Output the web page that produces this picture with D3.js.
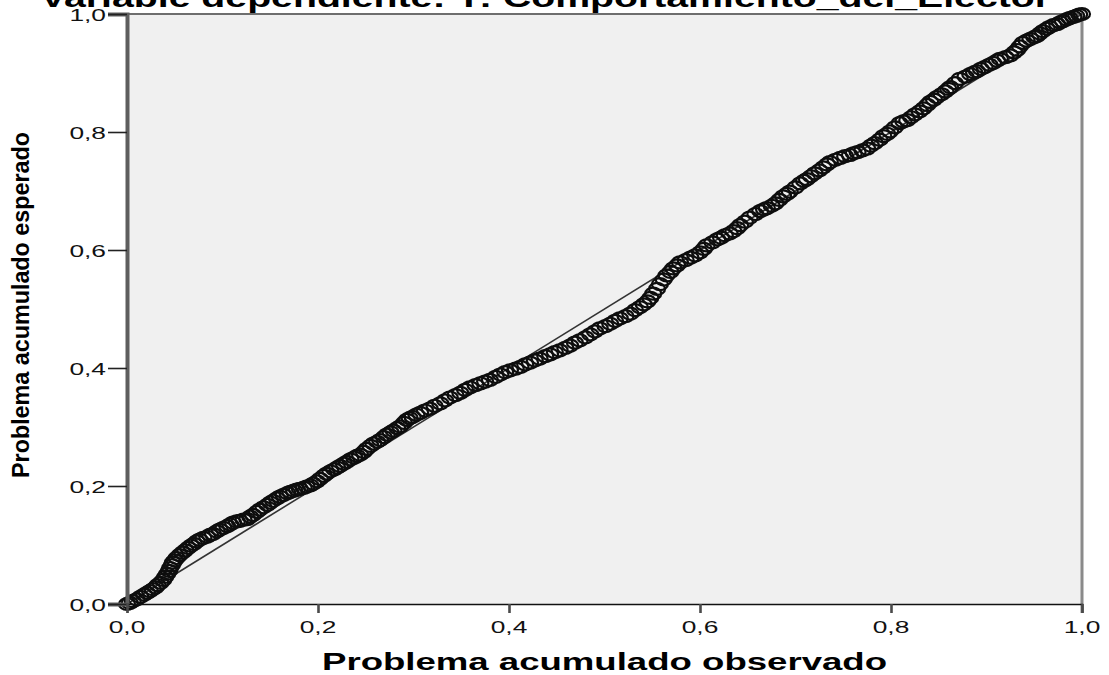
<!DOCTYPE html>
<html>
<head>
<meta charset="utf-8">
<script src="https://cdn.jsdelivr.net/npm/d3@7"></script>
<style>
  html, body { margin: 0; padding: 0; background: #ffffff; }
  svg { display: block; font-family: "Liberation Sans", Arial, sans-serif; }
</style>
</head>
<body>
<svg id="chart" width="1109" height="675"></svg>
<script>
// Observed cumulative probability of each case
const observed = [
  0.000, 0.003, 0.006, 0.010, 0.014, 0.018, 0.021, 0.024, 0.027, 0.030,
  0.032, 0.035, 0.038, 0.040, 0.042, 0.044, 0.045, 0.047, 0.048, 0.050,
  0.052, 0.055, 0.058, 0.061, 0.064, 0.067, 0.070, 0.073, 0.076, 0.080,
  0.084, 0.087, 0.090, 0.094, 0.097, 0.101, 0.105, 0.108, 0.111, 0.115,
  0.118, 0.122, 0.126, 0.129, 0.132, 0.136, 0.139, 0.143, 0.147, 0.150,
  0.153, 0.157, 0.160, 0.164, 0.168, 0.171, 0.175, 0.178, 0.181, 0.185,
  0.188, 0.192, 0.195, 0.199, 0.202, 0.206, 0.209, 0.213, 0.217, 0.220,
  0.223, 0.227, 0.230, 0.234, 0.238, 0.241, 0.244, 0.248, 0.251, 0.255,
  0.258, 0.262, 0.265, 0.269, 0.272, 0.276, 0.279, 0.283, 0.286, 0.290,
  0.293, 0.296, 0.299, 0.303, 0.307, 0.312, 0.317, 0.322, 0.328, 0.333,
  0.338, 0.344, 0.349, 0.354, 0.359, 0.365, 0.370, 0.375, 0.380, 0.386,
  0.391, 0.396, 0.401, 0.407, 0.412, 0.417, 0.422, 0.427, 0.432, 0.438,
  0.443, 0.448, 0.453, 0.459, 0.464, 0.469, 0.474, 0.480, 0.485, 0.490,
  0.495, 0.501, 0.506, 0.511, 0.516, 0.522, 0.527, 0.532, 0.537, 0.541,
  0.545, 0.548, 0.551, 0.555, 0.558, 0.562, 0.565, 0.569, 0.572, 0.576,
  0.579, 0.585, 0.590, 0.595, 0.600, 0.604, 0.607, 0.613, 0.618, 0.622,
  0.626, 0.631, 0.635, 0.639, 0.642, 0.647, 0.652, 0.658, 0.663, 0.667,
  0.670, 0.675, 0.679, 0.683, 0.687, 0.691, 0.694, 0.700, 0.705, 0.709,
  0.712, 0.716, 0.720, 0.725, 0.729, 0.733, 0.736, 0.742, 0.747, 0.752,
  0.757, 0.761, 0.765, 0.770, 0.775, 0.779, 0.783, 0.788, 0.792, 0.796,
  0.799, 0.804, 0.809, 0.813, 0.817, 0.821, 0.825, 0.830, 0.834, 0.838,
  0.841, 0.845, 0.848, 0.853, 0.857, 0.860, 0.862, 0.867, 0.872, 0.878,
  0.883, 0.887, 0.890, 0.894, 0.898, 0.903, 0.907, 0.911, 0.914, 0.920,
  0.925, 0.929, 0.932, 0.935, 0.938, 0.942, 0.946, 0.950, 0.953, 0.956,
  0.959, 0.963, 0.966, 0.970, 0.974, 0.977, 0.980, 0.984, 0.987, 0.991,
  0.994, 0.997, 1.000
];

// Expected cumulative probability under the normal distribution
const expected = [
  0.000, 0.002, 0.005, 0.008, 0.012, 0.016, 0.019, 0.022, 0.025, 0.028,
  0.032, 0.036, 0.041, 0.046, 0.051, 0.056, 0.061, 0.066, 0.070, 0.074,
  0.078, 0.083, 0.087, 0.091, 0.095, 0.099, 0.102, 0.106, 0.109, 0.112,
  0.114, 0.117, 0.119, 0.123, 0.126, 0.129, 0.132, 0.135, 0.138, 0.140,
  0.141, 0.143, 0.144, 0.148, 0.151, 0.156, 0.160, 0.164, 0.168, 0.172,
  0.175, 0.179, 0.182, 0.185, 0.188, 0.190, 0.192, 0.194, 0.195, 0.197,
  0.199, 0.201, 0.204, 0.208, 0.212, 0.217, 0.221, 0.225, 0.228, 0.231,
  0.234, 0.238, 0.241, 0.245, 0.248, 0.251, 0.253, 0.258, 0.263, 0.268,
  0.272, 0.275, 0.278, 0.283, 0.287, 0.291, 0.294, 0.298, 0.301, 0.307,
  0.312, 0.315, 0.317, 0.321, 0.324, 0.328, 0.331, 0.336, 0.340, 0.345,
  0.350, 0.354, 0.358, 0.363, 0.367, 0.371, 0.374, 0.377, 0.380, 0.385,
  0.389, 0.393, 0.396, 0.399, 0.402, 0.406, 0.409, 0.413, 0.416, 0.420,
  0.423, 0.427, 0.430, 0.434, 0.438, 0.443, 0.447, 0.452, 0.457, 0.462,
  0.467, 0.471, 0.475, 0.480, 0.484, 0.488, 0.492, 0.498, 0.503, 0.508,
  0.513, 0.519, 0.526, 0.534, 0.542, 0.550, 0.557, 0.563, 0.569, 0.574,
  0.579, 0.583, 0.587, 0.591, 0.596, 0.602, 0.608, 0.613, 0.618, 0.621,
  0.625, 0.628, 0.632, 0.637, 0.642, 0.648, 0.655, 0.661, 0.666, 0.669,
  0.671, 0.675, 0.679, 0.685, 0.691, 0.695, 0.699, 0.706, 0.713, 0.717,
  0.720, 0.725, 0.730, 0.735, 0.740, 0.745, 0.749, 0.753, 0.756, 0.759,
  0.761, 0.764, 0.766, 0.769, 0.772, 0.777, 0.781, 0.787, 0.793, 0.797,
  0.801, 0.808, 0.815, 0.818, 0.820, 0.825, 0.830, 0.835, 0.840, 0.846,
  0.851, 0.855, 0.859, 0.864, 0.869, 0.873, 0.876, 0.883, 0.890, 0.894,
  0.898, 0.901, 0.903, 0.907, 0.910, 0.914, 0.917, 0.921, 0.924, 0.927,
  0.930, 0.935, 0.939, 0.945, 0.951, 0.955, 0.958, 0.961, 0.963, 0.967,
  0.971, 0.975, 0.978, 0.981, 0.983, 0.986, 0.988, 0.991, 0.993, 0.995,
  0.997, 0.999, 1.000
];

const tickValues = [0, 0.2, 0.4, 0.6, 0.8, 1.0];
const tickLabels = ["0,0", "0,2", "0,4", "0,6", "0,8", "1,0"];

const chartTitle = "Variable dependiente: Y: Comportamiento_del_Elector";
const xTitle = "Problema acumulado observado";
const yTitle = "Problema acumulado esperado";

const svg = d3.select("#chart");
const plotLeft = 127, plotRight = 1082, plotTop = 14, plotBottom = 604;
const stretch = 1.55;

const x = d3.scaleLinear().domain([0, 1]).range([plotLeft, plotRight]);
const y = d3.scaleLinear().domain([0, 1]).range([plotBottom, plotTop]);

// Slight softening for the marker chain
const defs = svg.append("defs");
defs.append("filter").attr("id", "soft")
  .append("feGaussianBlur").attr("stdDeviation", 0.6);

// Plot background
svg.append("rect")
  .attr("x", plotLeft).attr("y", plotTop)
  .attr("width", plotRight - plotLeft).attr("height", plotBottom - plotTop)
  .attr("fill", "#f0f0f0");

// Frame: top and right borders
svg.append("line")
  .attr("x1", plotLeft).attr("x2", plotRight).attr("y1", plotTop).attr("y2", plotTop)
  .attr("stroke", "#6e6e6e").attr("stroke-width", 2);
svg.append("line")
  .attr("x1", plotRight).attr("x2", plotRight).attr("y1", plotTop).attr("y2", plotBottom + 9)
  .attr("stroke", "#8a8a8a").attr("stroke-width", 3);

// Reference diagonal
svg.append("line")
  .attr("x1", x(0)).attr("y1", y(0)).attr("x2", x(1)).attr("y2", y(1))
  .attr("stroke", "#333333").attr("stroke-width", 1.6);

// Points
const pts = observed.map((d, i) => ({ o: d, e: expected[i] }));
svg.append("g").attr("filter", "url(#soft)")
  .selectAll("ellipse")
  .data(pts).join("ellipse")
  .attr("cx", d => x(d.o)).attr("cy", d => y(d.e))
  .attr("rx", 8).attr("ry", 6)
  .attr("fill", "none")
  .attr("stroke", "#0d0d0d").attr("stroke-width", 2.2);

// Y axis
const yAxis = svg.append("g").attr("transform", `translate(${plotLeft},0)`)
  .call(d3.axisLeft(y).tickValues(tickValues).tickSize(19).tickPadding(0).tickFormat(""));
yAxis.select(".domain").attr("stroke", "#5e5e5e").attr("stroke-width", 4);
yAxis.selectAll(".tick line").attr("stroke", "#222").attr("stroke-width", 1.6);

// X axis
const xAxis = svg.append("g").attr("transform", `translate(0,${plotBottom})`)
  .call(d3.axisBottom(x).tickValues(tickValues).tickSize(9).tickFormat(""));
xAxis.select(".domain").attr("stroke", "#111").attr("stroke-width", 1.6);
xAxis.selectAll(".tick line").attr("stroke", "#4a4a4a").attr("stroke-width", 2.6);

// Tick labels, drawn horizontally widened
tickValues.forEach((v, i) => {
  svg.append("text")
    .attr("transform", `translate(${x(v)},633) scale(${stretch},1)`)
    .attr("text-anchor", "middle")
    .attr("font-size", 17).attr("fill", "#111")
    .text(tickLabels[i]);
  svg.append("text")
    .attr("transform", `translate(106,${y(v) + 7}) scale(${stretch},1)`)
    .attr("text-anchor", "end")
    .attr("font-size", 17).attr("fill", "#111")
    .text(tickLabels[i]);
});

// Axis titles
svg.append("text")
  .attr("x", (plotLeft + plotRight) / 2).attr("y", 670)
  .attr("text-anchor", "middle")
  .attr("font-size", 23).attr("font-weight", "bold").attr("fill", "#000")
  .attr("textLength", 565).attr("lengthAdjust", "spacingAndGlyphs")
  .text(xTitle);

svg.append("text")
  .attr("transform", `translate(29,${(plotTop + plotBottom) / 2 - 4}) rotate(-90) scale(1,1.3)`)
  .attr("text-anchor", "middle")
  .attr("font-size", 19).attr("font-weight", "bold").attr("fill", "#000")
  .attr("textLength", 346).attr("lengthAdjust", "spacingAndGlyphs")
  .text(yTitle);

// Chart title
svg.append("text")
  .attr("x", 545).attr("y", 7)
  .attr("text-anchor", "middle")
  .attr("font-size", 27).attr("font-weight", "bold").attr("fill", "#000")
  .attr("textLength", 1010).attr("lengthAdjust", "spacingAndGlyphs")
  .text(chartTitle);
</script>
</body>
</html>
